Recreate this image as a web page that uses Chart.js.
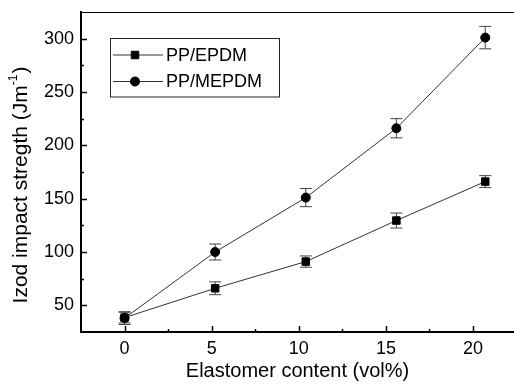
<!DOCTYPE html>
<html><head><meta charset="utf-8">
<script src="https://cdn.jsdelivr.net/npm/chart.js@4/dist/chart.umd.min.js"></script>
<style>html,body{margin:0;padding:0;background:#fff;} #wrap{width:514px;height:384px;position:relative}</style>
</head><body><div id="wrap"><canvas id="c" width="514" height="384"></canvas></div>
<script>
const contentVol = [0, 5.2, 10.4, 15.6, 20.7];
const ppEpdm = [38.5, 66, 91, 129.5, 166];
const ppEpdmErr = [5, 6, 5.3, 7, 5.6];
const ppMepdm = [38, 100, 151, 216, 301];
const ppMepdmErr = [6, 7.5, 8.5, 9, 10.5];
const xTickValues = [0, 5, 10, 15, 20];
const xMinorValues = [2.5, 7.5, 12.5, 17.5];
const yTickValues = [50, 100, 150, 200, 250, 300];
const yMinorValues = [75, 125, 175, 225, 275];
const seriesNames = ['PP/EPDM', 'PP/MEPDM'];
const xTitle = 'Elastomer content (vol%)';
const yTitleMain = 'Izod impact stregth (Jm';
const yTitleSup = '-1';
const yTitleEnd = ')';

const FONT = "'Liberation Sans', Arial, Helvetica, sans-serif";
const errs = [ppEpdmErr, ppMepdmErr];

function zeroPad(s) { s.paddingLeft = 0; s.paddingRight = 0; s.paddingTop = 0; s.paddingBottom = 0; }

const extras = {
  id: 'extras',
  beforeDatasetsDraw(chart) {
    const ctx = chart.ctx, xs = chart.scales.x, ys = chart.scales.y;
    ctx.save();
    chart.data.datasets.forEach((ds, i) => {
      ds.data.forEach((pt, j) => {
        const e = errs[i][j];
        const px = xs.getPixelForValue(pt.x);
        const y1 = ys.getPixelForValue(pt.y + e);
        const y2 = ys.getPixelForValue(pt.y - e);
        ctx.strokeStyle = '#444';
        ctx.lineWidth = 1;
        ctx.beginPath();
        ctx.moveTo(px, y1); ctx.lineTo(px, y2);
        ctx.moveTo(px - 6, y1); ctx.lineTo(px + 6, y1);
        ctx.moveTo(px - 6, y2); ctx.lineTo(px + 6, y2);
        ctx.stroke();
      });
    });
    ctx.restore();
  },
  afterDraw(chart) {
    const ctx = chart.ctx, xs = chart.scales.x, ys = chart.scales.y, a = chart.chartArea;
    ctx.save();
    ctx.strokeStyle = '#000';
    ctx.lineWidth = 1;
    ctx.beginPath();
    ctx.moveTo(a.left, a.top + 0.5); ctx.lineTo(a.right, a.top + 0.5);
    ctx.stroke();
    ctx.lineWidth = 1.5;
    ctx.beginPath();
    xTickValues.forEach(v => { const p = Math.round(xs.getPixelForValue(v)) + 0.5; ctx.moveTo(p, a.bottom); ctx.lineTo(p, a.bottom - 6); });
    xMinorValues.forEach(v => { const p = Math.round(xs.getPixelForValue(v)) + 0.5; ctx.moveTo(p, a.bottom); ctx.lineTo(p, a.bottom - 3); });
    yTickValues.forEach(v => { const p = Math.round(ys.getPixelForValue(v)) + 0.5; ctx.moveTo(a.left, p); ctx.lineTo(a.left + 6, p); });
    yMinorValues.forEach(v => { const p = Math.round(ys.getPixelForValue(v)) + 0.5; ctx.moveTo(a.left, p); ctx.lineTo(a.left + 3, p); });
    ctx.stroke();

    ctx.lineWidth = 1;
    ctx.strokeStyle = '#222';
    ctx.strokeRect(110.5, 38.5, 169, 58.5);
    const rows = [55, 81.5];
    chart.data.datasets.forEach((ds, i) => {
      const yy = rows[i];
      ctx.strokeStyle = '#333';
      ctx.lineWidth = 1;
      ctx.beginPath(); ctx.moveTo(113, yy); ctx.lineTo(163, yy); ctx.stroke();
      ctx.fillStyle = '#000'; ctx.strokeStyle = '#000';
      Chart.helpers.drawPoint(ctx, {pointStyle: ds.pointStyle, radius: ds.pointRadius, rotation: 0, borderWidth: 1}, 135, yy);
      ctx.fillStyle = '#000';
      ctx.font = '18px ' + FONT;
      ctx.textAlign = 'left'; ctx.textBaseline = 'middle';
      ctx.fillText(seriesNames[i], 166, yy + 1);
    });

    ctx.save();
    const cx = 27, cy = (a.top + a.bottom) / 2 + 13;
    ctx.translate(cx, cy);
    ctx.rotate(-Math.PI / 2);
    ctx.fillStyle = '#000';
    ctx.textBaseline = 'alphabetic';
    ctx.textAlign = 'left';
    ctx.font = '21px ' + FONT;
    const w1 = ctx.measureText(yTitleMain).width;
    ctx.font = '12px ' + FONT;
    const w2 = ctx.measureText(yTitleSup).width;
    ctx.font = '21px ' + FONT;
    const w3 = ctx.measureText(yTitleEnd).width;
    let sx = -(w1 + w2 + w3 + 1) / 2;
    ctx.fillText(yTitleMain, sx, 0);
    sx += w1;
    ctx.font = '12px ' + FONT;
    ctx.fillText(yTitleSup, sx, -10);
    sx += w2 + 1;
    ctx.font = '21px ' + FONT;
    ctx.fillText(yTitleEnd, sx, 0);
    ctx.restore();

    ctx.restore();
  }
};

new Chart(document.getElementById('c'), {
  type: 'line',
  data: {
    datasets: [
      {
        label: seriesNames[0],
        data: contentVol.map((x, i) => ({x, y: ppEpdm[i]})),
        borderColor: '#333', borderWidth: 1,
        pointStyle: 'rect', pointRadius: 5.3,
        pointBackgroundColor: '#000', pointBorderColor: '#000', pointBorderWidth: 1,
        tension: 0, fill: false
      },
      {
        label: seriesNames[1],
        data: contentVol.map((x, i) => ({x, y: ppMepdm[i]})),
        borderColor: '#333', borderWidth: 1,
        pointStyle: 'circle', pointRadius: 4.5,
        pointBackgroundColor: '#000', pointBorderColor: '#000', pointBorderWidth: 1,
        tension: 0, fill: false
      }
    ]
  },
  options: {
    responsive: false,
    animation: false,
    events: [],
    layout: { autoPadding: false, padding: { top: 12, right: 0, left: 0, bottom: 0 } },
    plugins: { legend: { display: false }, tooltip: { enabled: false } },
    scales: {
      x: {
        type: 'linear', min: -2.5, max: 22.35,
        afterBuildTicks: s => { s.ticks = xTickValues.map(v => ({value: v})); },
        afterFit: s => { s.height = 52; zeroPad(s); },
        grid: { display: false, drawTicks: false },
        border: { display: true, color: '#000', width: 2 },
        ticks: { color: '#000', font: { family: FONT, size: 18 }, padding: 6, maxRotation: 0 },
        title: { display: true, text: xTitle, color: '#000', font: { family: FONT, size: 20, lineHeight: 1 }, padding: { top: 0, bottom: 3 } }
      },
      y: {
        type: 'linear', min: 25, max: 325,
        afterBuildTicks: s => { s.ticks = yTickValues.map(v => ({value: v})); },
        afterFit: s => { s.width = 81; zeroPad(s); },
        grid: { display: false, drawTicks: false },
        border: { display: true, color: '#000', width: 2 },
        ticks: { color: '#000', font: { family: FONT, size: 18 }, padding: 7 }
      }
    }
  },
  plugins: [extras]
});
</script>
</body></html>
